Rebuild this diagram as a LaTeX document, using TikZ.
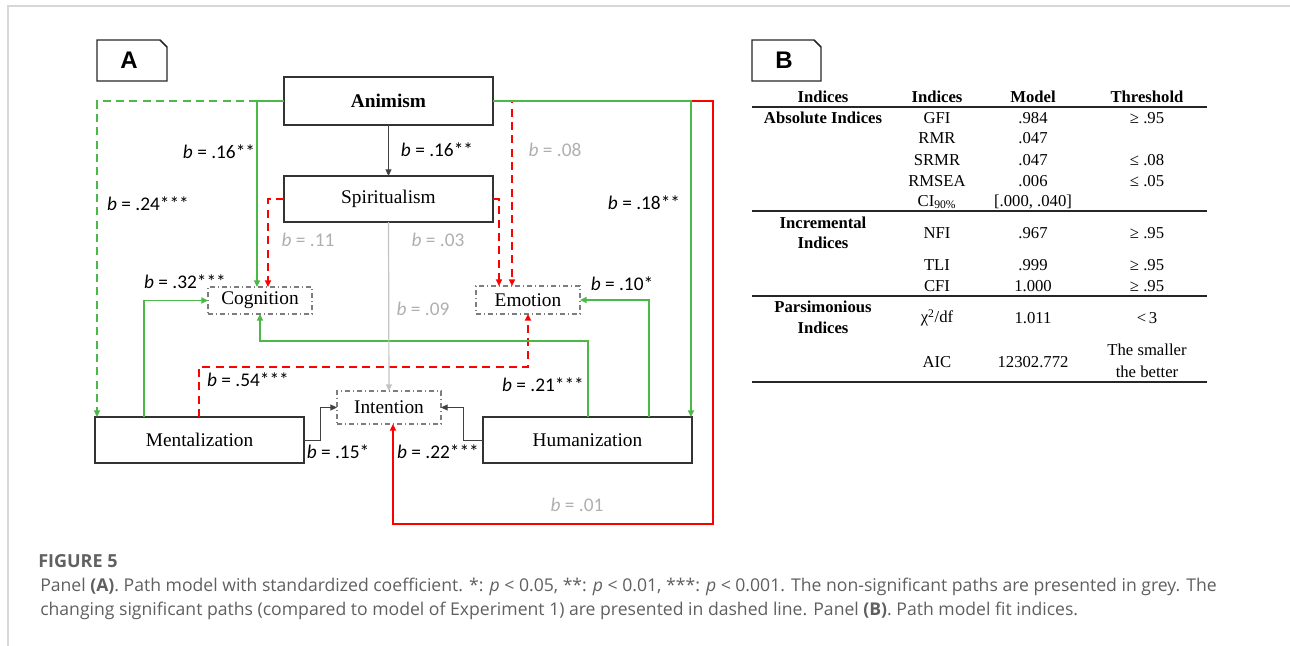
\documentclass[tikz,border=0pt]{standalone}
\usepackage{fontspec}
\setmainfont{Liberation Serif}
\newfontfamily\labfont{Carlito}
\newfontfamily\capfont{Open Sans}
\newfontfamily\tagfont{Liberation Sans}
\usetikzlibrary{arrows.meta}

\definecolor{pgreen}{RGB}{76,184,72}
\definecolor{pred}{RGB}{255,0,0}
\definecolor{pgray}{RGB}{195,195,195}
\definecolor{lgray}{RGB}{175,175,175}
\definecolor{boxgray}{RGB}{125,125,125}
\definecolor{captxt}{RGB}{95,95,95}
\definecolor{framegray}{RGB}{215,215,215}

\newcommand\bval[1]{\textit{b} = #1}

\begin{document}
\begin{tikzpicture}[x=0.75pt,y=-0.75pt,
  arr/.style={-{Triangle[length=5pt,width=4.5pt]}},
  var/.style 2 args={draw=black!80, line width=1.1pt, minimum width=#1*0.75pt,
    minimum height=#2*0.75pt, inner sep=0pt, outer sep=0pt,
    font=\fontsize{14.5}{17}\selectfont},
  med/.style 2 args={draw=boxgray, line width=0.8pt,
    dash pattern=on 4pt off 2pt on 1pt off 2pt, minimum width=#1*0.75pt,
    minimum height=#2*0.75pt, inner sep=0pt, outer sep=0pt,
    font=\fontsize{14.5}{17}\selectfont},
  sig/.style={font=\labfont\fontsize{14.5}{17}\selectfont, text=black, inner sep=0pt},
  ns/.style={sig, text=lgray},
  gsolid/.style={draw=pgreen, line width=1.3pt, arr},
  gdash/.style={gsolid, dash pattern=on 6pt off 4pt},
  rsolid/.style={draw=pred, line width=1.3pt, arr},
  rdash/.style={rsolid, dash pattern=on 6pt off 4pt},
  blk/.style={draw=black!75, line width=0.75pt, arr},
  grayline/.style={draw=pgray, line width=0.9pt, arr},
  tagbox/.style={draw=black!85, line width=1.1pt},
  tagtxt/.style={font=\tagfont\bfseries\fontsize{18}{20}\selectfont, inner sep=0pt},
  tcell/.style={font=\fontsize{12.5}{14}\selectfont, inner sep=0pt},
  thead/.style={tcell, font=\fontsize{12.5}{14}\selectfont\bfseries},
  tablerule/.style={draw=black!85, line width=1pt},
  captext/.style={anchor=west, inner sep=0pt, text=captxt, font=\capfont\fontsize{13.2}{15}\selectfont},
]
\useasboundingbox (0,0) rectangle (1290,646);

% page frame
\draw[framegray, line width=1.5pt] (8,646) -- (8,6) -- (1290,6);

% ---------------- Panel A ----------------
\draw[tagbox] (97,81) -- (97,40) -- (160,40) -- (167,47) -- (167,81) -- cycle;
\node[tagtxt] (tagA) at (129,60) {A};

% variables
\node[var={209}{48}] (anim) at (388.5,101) {\bfseries Animism};
\node[var={209}{46}] (spir) at (388.5,199) {Spiritualism};
\node[var={209}{46}] (ment) at (199.5,440) {Mentalization};
\node[var={209}{46}] (hum)  at (587.5,440) {Humanization};
\node[med={104}{27}] (cog)  at (260,300.5) {Cognition};
\node[med={104}{28}] (emo)  at (528,300) {Emotion};
\node[med={104}{33}] (int)  at (389,407.5) {Intention};

% paths
\draw[rsolid] (anim.east) -| (713,524) -| (393,0 |- int.south);
\draw[rdash] (anim.east) -| (512,0 |- emo.north);
\draw[rdash] (spir.west) -| (268,0 |- cog.north);
\draw[rdash] (spir.east) -| (499,0 |- emo.north);
\draw[rdash] (199,0 |- ment.north) -- (199,367) -| (emo.south);
\draw[gdash] (anim.west) -| (97,0 |- ment.north);
\draw[gsolid] (anim.west) -| (257,0 |- cog.north);
\draw[gsolid] (anim.east) -| (691,0 |- hum.north);
\draw[gsolid] (144,0 |- ment.north) |- (cog.west);
\draw[gsolid] (588,0 |- hum.north) -- (588,341) -| (cog.south);
\draw[gsolid] (649,0 |- hum.north) |- (emo.east);
\draw[grayline] (spir.south) -- (int.north);
\draw[blk] (anim.south) -- (spir.north);
\draw[blk] (ment.east) -- (320,0 |- ment.east) |- (int.west);
\draw[blk] (hum.west) -- (463,0 |- hum.west) |- (int.east);

% coefficients
\node[sig] (c1)  at (437,150) {\bval{.16**}};
\node[sig] (c2)  at (219,152) {\bval{.16**}};
\node[sig] (c3)  at (148,204) {\bval{.24***}};
\node[ns]  (c4)  at (308,240) {\bval{.11}};
\node[ns]  (c5)  at (438,240) {\bval{.03}};
\node[ns]  (c6)  at (555,150) {\bval{.08}};
\node[sig] (c7)  at (644,203) {\bval{.18**}};
\node[ns]  (c8)  at (423,309) {\bval{.09}};
\node[sig] (c9)  at (185,282) {\bval{.32***}};
\node[sig] (c10) at (248,380) {\bval{.54***}};
\node[sig] (c11) at (543,385) {\bval{.21***}};
\node[sig] (c12) at (622,284) {\bval{.10*}};
\node[sig] (c13) at (338,452) {\bval{.15*}};
\node[sig] (c14) at (438,452) {\bval{.22***}};
\node[ns]  (c15) at (577,505) {\bval{.01}};

% ---------------- Panel B ----------------
\draw[tagbox] (752,81) -- (752,40) -- (814,40) -- (821,47) -- (821,81) -- cycle;
\node[tagtxt] (tagB) at (784,60) {B};

% header
\node[thead] (h1) at (823,97) {Indices};
\node[thead] (h2) at (937,97) {Indices};
\node[thead] (h3) at (1033,97) {Model};
\node[thead] (h4) at (1147,97) {Threshold};
\draw[tablerule, line width=1.4pt] (752,107) -- (1207,107);

% absolute indices
\node[thead] (g1) at (823,118) {Absolute Indices};
\node[tcell] (r1a) at (937,118) {GFI};   \node[tcell] (r1b) at (1033,118) {.984};  \node[tcell] (r1c) at (1147,118) {≥ .95};
\node[tcell] (r2a) at (937,138) {RMR};   \node[tcell] (r2b) at (1033,138) {.047};
\node[tcell] (r3a) at (937,160) {SRMR};  \node[tcell] (r3b) at (1033,160) {.047};  \node[tcell] (r3c) at (1147,160) {≤ .08};
\node[tcell] (r4a) at (937,181) {RMSEA}; \node[tcell] (r4b) at (1033,181) {.006};  \node[tcell] (r4c) at (1147,181) {≤ .05};
\node[tcell] (r5a) at (937,202) {CI\textsubscript{90\%}}; \node[tcell] (r5b) at (1033,202) {[.000,\ .040]};
\draw[tablerule] (752,211) -- (1207,211);

% incremental indices
\node[thead] (g2a) at (823,223) {Incremental};
\node[thead] (g2b) at (823,243) {Indices};
\node[tcell] (r6a) at (937,233) {NFI}; \node[tcell] (r6b) at (1033,233) {.967};  \node[tcell] (r6c) at (1147,233) {≥ .95};
\node[tcell] (r7a) at (937,265) {TLI}; \node[tcell] (r7b) at (1033,265) {.999};  \node[tcell] (r7c) at (1147,265) {≥ .95};
\node[tcell] (r8a) at (937,286) {CFI}; \node[tcell] (r8b) at (1033,286) {1.000}; \node[tcell] (r8c) at (1147,286) {≥ .95};
\draw[tablerule] (752,296) -- (1207,296);

% parsimonious indices
\node[thead] (g3a) at (823,307) {Parsimonious};
\node[thead] (g3b) at (823,328) {Indices};
\node[tcell] (r9a) at (937,318) {χ\textsuperscript{2}/df}; \node[tcell] (r9b) at (1033,318) {1.011}; \node[tcell] (r9c) at (1147,318) {<\,3};
\node[tcell] (r10a) at (937,362) {AIC}; \node[tcell] (r10b) at (1033,362) {12302.772};
\node[tcell] (r10c) at (1147,350) {The smaller};
\node[tcell] (r10d) at (1147,372) {the better};
\draw[tablerule] (752,382) -- (1207,382);

% ---------------- caption ----------------
\node[captext, font=\capfont\bfseries\fontsize{13.5}{15}\selectfont, text=black!62] (fig) at (38,561) {FIGURE 5};
\node[captext] (cap1) at (40,587) {Panel \textbf{(A)}. Path model with standardized coefficient. *: \textit{p} < 0.05, **: \textit{p} < 0.01, ***: \textit{p} < 0.001. The non-significant paths are presented in grey. The};
\node[captext] (cap2) at (40,611) {changing significant paths (compared to model of Experiment 1) are presented in dashed line. Panel \textbf{(B)}. Path model fit indices.};
\end{tikzpicture}
\end{document}
